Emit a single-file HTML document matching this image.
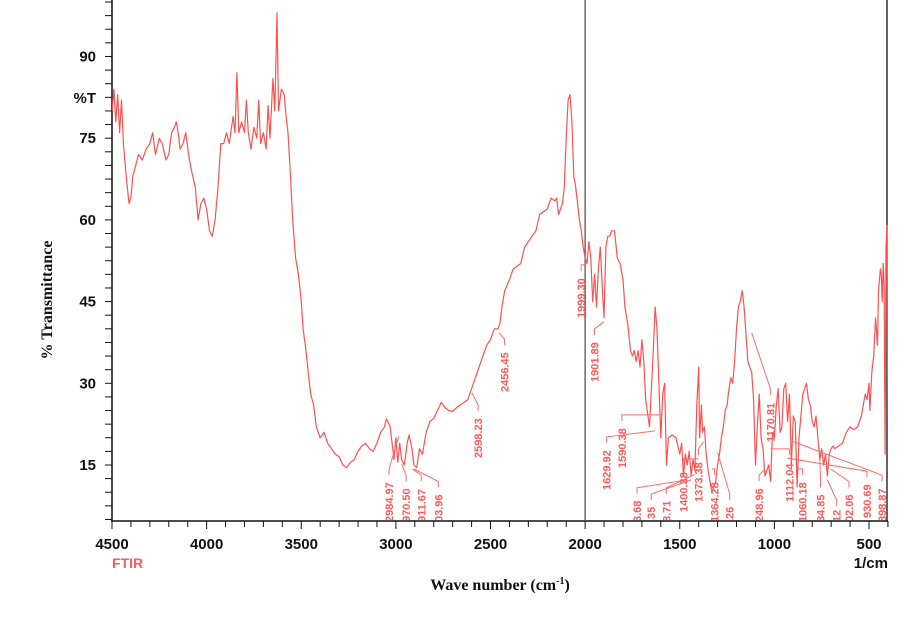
<!DOCTYPE html>
<html><head><meta charset="utf-8"><style>
html,body{margin:0;padding:0;background:#fff;width:919px;height:624px;overflow:hidden}
svg{display:block}
.tk{font:bold 15px "Liberation Sans",sans-serif;fill:#111}
.pk{font:bold 11px "Liberation Sans",sans-serif;fill:#ff5a5a}
</style></head><body>
<svg id="chart" width="919" height="624" viewBox="0 0 919 624" xmlns="http://www.w3.org/2000/svg">
<defs><clipPath id="plotclip"><rect x="112" y="0" width="776" height="520"/></clipPath></defs>
<g id="axes"></g>
<g id="series" clip-path="url(#plotclip)"></g>
<g id="peaks" clip-path="url(#plotclip)"></g>
<text x="96" y="103" text-anchor="end" class="tk">%T</text>
<text x="888" y="568" text-anchor="end" class="tk">1/cm</text>
<text x="112" y="568" style="font:bold 14px 'Liberation Sans',sans-serif;fill:#ff5a5a">FTIR</text>
<text x="500" y="590" text-anchor="middle" style="font:bold 16px 'Liberation Serif',serif;fill:#111">Wave number (cm<tspan dy="-6" font-size="10">-1</tspan><tspan dy="6">)</tspan></text>
<text transform="translate(52,300) rotate(-90)" text-anchor="middle" style="font:bold 16px 'Liberation Serif',serif;fill:#111">% Transmittance</text>
</svg>
<script>
const wavenumbers=[4500,4490,4480,4470,4460,4450,4440,4425,4410,4400,4390,4375,4360,4340,4320,4300,4285,4270,4250,4235,4215,4200,4185,4170,4160,4150,4140,4125,4110,4095,4080,4060,4045,4030,4015,4000,3985,3970,3955,3940,3925,3910,3895,3880,3860,3850,3840,3830,3815,3800,3790,3780,3765,3750,3735,3725,3715,3700,3685,3675,3665,3650,3640,3628,3620,3605,3590,3580,3570,3560,3545,3530,3515,3500,3490,3475,3460,3450,3435,3420,3400,3380,3360,3340,3320,3300,3280,3260,3240,3220,3200,3180,3160,3140,3120,3100,3080,3060,3050,3030,3020,3010,3000,2990,2980,2970,2955,2940,2930,2915,2905,2890,2875,2860,2840,2820,2800,2780,2760,2740,2720,2700,2680,2660,2640,2620,2600,2580,2560,2540,2520,2500,2480,2460,2450,2440,2425,2400,2380,2360,2340,2320,2300,2280,2260,2240,2220,2200,2180,2160,2150,2140,2120,2110,2100,2090,2080,2070,2060,2050,2040,2030,2020,2010,2000,1990,1980,1970,1960,1950,1940,1930,1920,1910,1900,1890,1880,1870,1860,1845,1830,1815,1800,1790,1775,1760,1750,1740,1730,1720,1710,1700,1690,1680,1660,1650,1640,1630,1620,1610,1600,1590,1580,1570,1560,1540,1520,1500,1490,1480,1470,1460,1450,1440,1430,1420,1410,1400,1395,1385,1380,1370,1360,1350,1340,1330,1320,1310,1300,1290,1280,1270,1260,1250,1240,1230,1220,1210,1200,1190,1180,1170,1160,1150,1140,1130,1120,1110,1100,1090,1080,1070,1060,1050,1040,1030,1020,1010,1000,990,980,970,960,950,940,930,920,910,900,890,880,870,860,850,840,830,820,810,800,790,780,770,760,750,740,730,720,710,700,690,680,660,640,620,600,580,560,540,520,510,500,495,485,475,465,455,450,440,435,430,425,420,415,410,405,400];
const transmittance=[80,84,78,83,76,82,74,68,63,64,68,70,72,71,73,74,76,72,75,74,71,72,76,77,78,76,73,74,76,72,69,66,60,63,64,62,58,57,60,66,74,74,76,74,79,76,87,76,78,76,82,76,73,77,75,82,74,76,73,81,75,86,80,98,80,84,83,79,76,70,60,53,50,45,40,36,31,28,26,22,20,21,19,18,17,16.5,15,14.5,15.5,16,17.5,18.5,19,18,17.5,19,21,22,23.5,22,19,16,20,15.5,19,16,15,19,20.5,18,15,14.5,18,17,21,23,23.5,25,26.5,25.5,25,24.8,25.5,26,26.5,27,29,31,33,35,37,38,40,40,41,44,47,49,51,51.5,52,55,56,57,58,61,61.5,62,64,63.5,64,61,63,66,75,82,83,78,68,66,63,60,58,55,53,52,56,53,45,50,44,51,55,48,42,55,57,57,58,58,53,52,49,44,41,36,35,36,34,36,33,38,34,27,22,29,36,44,40,30,20,28,30,15,20,20.5,20,17,19,13,17,15,17.5,13,16,14,26,33,20,26,21,22,17,14,12,10,11,12,15,17,20,22,25,26,29,31,30,34,40,44,45,47,44,39,34,33,32,27,15,22,28,20,18,13,14,15,12,21,20,26,29,21,22,29,30,23,28,15,24,23,11,20,24,28,29,30,27,26,23,22,24,20,16,18,15,17,13,17,18,18.5,18,18.5,19,21,22,21.5,22,24,28,27,30,25,32,35,42,37,47,51,50,45,52,48,17,55,59,20];
const xTickValues=[4500,4000,3500,3000,2500,2000,1500,1000,500];
const yTickValues=[15,30,45,60,75,90];
const peakLabels=["2984.97","970.50","911.67","03.96","2598.23","2456.45","1999.30","1901.89","1629.92","1590.38","3.68",".35","8.71","1400.38","1373.38","1364.28",".26","248.96","1170.81","1112.04","1060.18","34.85","12","02.06","930.69","898.87"];
const peakLabelWn=[3020,2930,2850,2760,2550,2410,2005,1935,1870,1790,1710,1635,1555,1465,1385,1300,1220,1065,1005,905,835,740,655,590,495,415];
const peakLabelBottom=[522,522,522,522,458,392,318,382,490,468,522,522,522,512,502,522,522,522,442,502,522,522,522,522,518,522];
const peakAnchorT=[21,16,15,15,29,40,52,42,22,20,13,13,14,14,20,11,18,15,40,18,13,17,13,15,17,20];
const peakAnchorWn=[2985,2970,2912,2904,2598,2456,1999,1902,1630,1590,1460,1440,1420,1400,1373,1330,1300,1050,1120,1020,880,760,720,702,931,899];

const NS="http://www.w3.org/2000/svg";
const X0=112,WX=0.18925,Y15=465,PY=5.447;
function xs(w){return X0+(4500-w)*WX;}
function ys(t){return Y15-(t-15)*PY;}
function mk(tag,attrs,parent){const e=document.createElementNS(NS,tag);for(const k in attrs)e.setAttribute(k,attrs[k]);parent.appendChild(e);return e;}
const axes=document.getElementById('axes');
const series=document.getElementById('series');
const peaks=document.getElementById('peaks');

let l=mk('line',{x1:112,y1:0,x2:112,y2:521,stroke:'#111','stroke-width':1.5},axes);


l=mk('line',{x1:111,y1:521,x2:888,y2:521,stroke:'#111','stroke-width':1.5},axes);


l=mk('line',{x1:xs(2000),y1:0,x2:xs(2000),y2:521,stroke:'#555','stroke-width':1.3},axes);


l=mk('line',{x1:887,y1:0,x2:887,y2:521,stroke:'#111','stroke-width':1.3},axes);



for(let t=5;t<=100;t+=2.5){const y=ys(t);if(y<0||y>520)continue;const m=mk('line',{x1:105,y1:y,x2:112,y2:y,stroke:'#111','stroke-width':1},axes);

}
yTickValues.forEach(v=>{const t=mk('text',{x:96,y:ys(v)+5,'text-anchor':'end',class:'tk'},axes);t.textContent=v;

});
for(let w=4500;w>=400;w-=100){const x=xs(w);const m=mk('line',{x1:x,y1:521,x2:x,y2:(w%500===0?529:527),stroke:'#111','stroke-width':1},axes);

}
xTickValues.forEach(v=>{const t=mk('text',{x:xs(v),y:549,'text-anchor':'middle',class:'tk'},axes);t.textContent=v;

});

let d='';wavenumbers.forEach((w,i)=>{d+=(i?'L':'M')+xs(w).toFixed(1)+','+ys(transmittance[i]).toFixed(1);});
const p=mk('path',{d:d,fill:'none',stroke:'#ff5050','stroke-width':1.2,'stroke-linejoin':'round'},series);



peakLabels.forEach((s,i)=>{
  const x=xs(peakLabelWn[i]);const b=peakLabelBottom[i];
  const ax=xs(peakAnchorWn[i]);const ay=ys(peakAnchorT[i])+4;
  const top=b-s.length*6.3-3;
  const ln=mk('polyline',{points:`${x-3},${top} ${x-3},${top-6} ${ax},${Math.min(ay,top-6)}`,fill:'none',stroke:'#ff6a6a','stroke-width':1},peaks);
  
  
  const t=mk('text',{transform:`translate(${x+1},${b}) rotate(-90)`,class:'pk'},peaks);
  t.textContent=s;
  
  
});
</script>
</body></html>
